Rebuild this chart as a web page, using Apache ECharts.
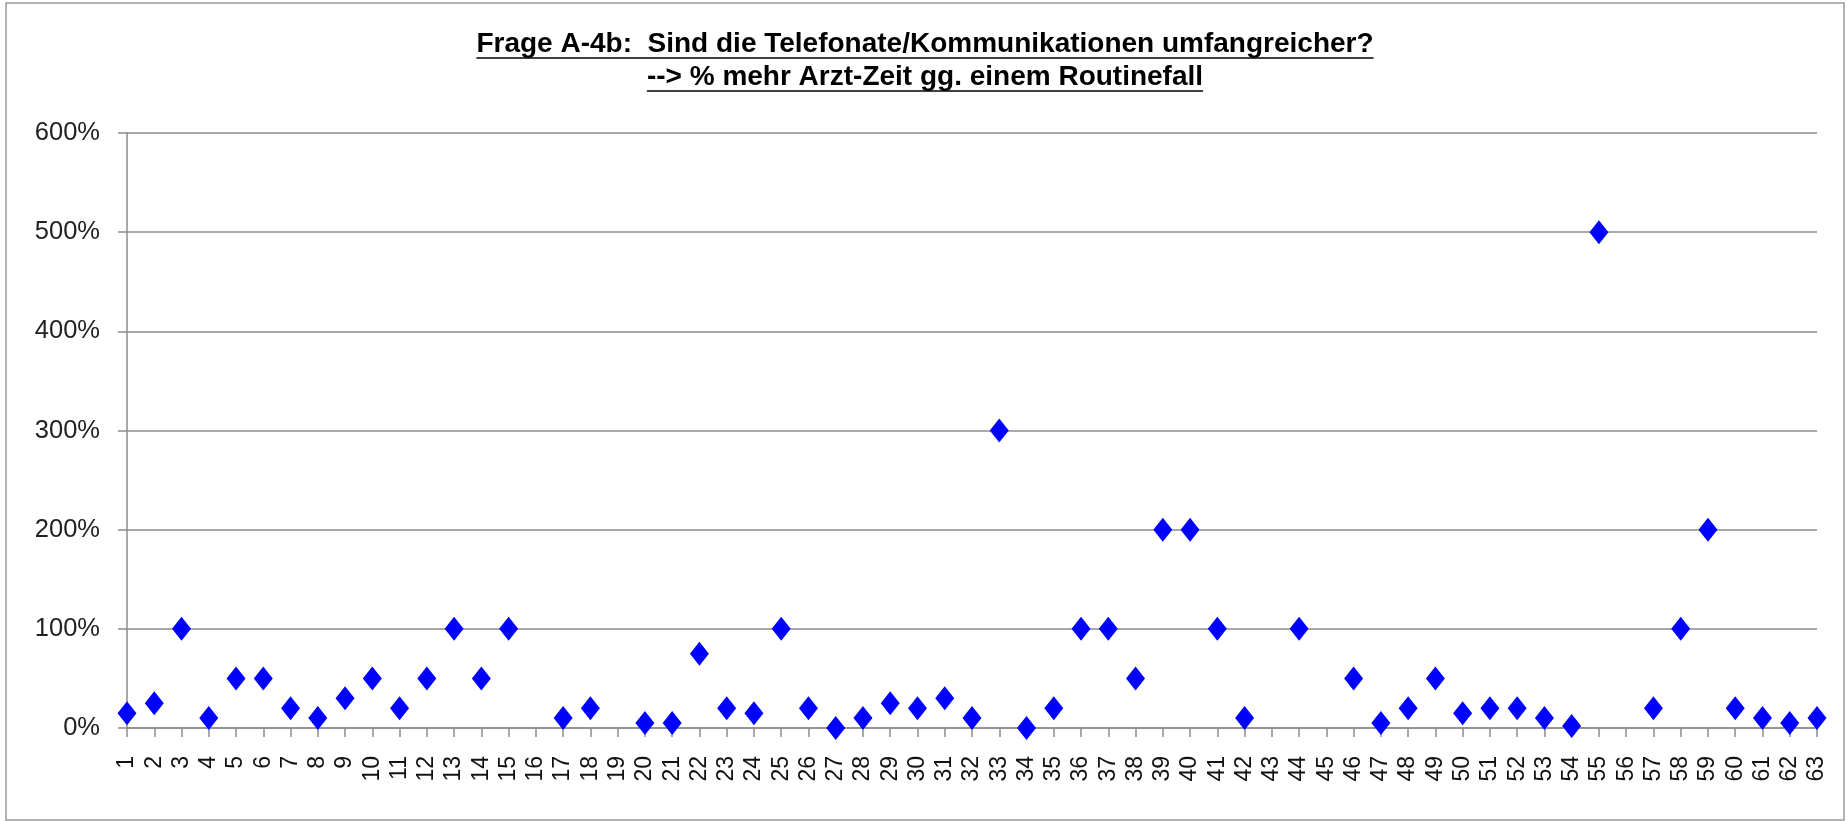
<html>
<head>
    <meta charset="utf-8">
    <title>Frage A-4b</title>
    <script src="https://cdn.jsdelivr.net/npm/echarts@6/dist/echarts.min.js"></script>
    <style>
        html, body { margin: 0; padding: 0; background: #fff; }
        #main { width: 1847px; height: 821px; }
    </style>
</head>
<body>
    <div id="main"></div>
    <script type="text/javascript">
        // Daten (Werte in %), leere Stellen = keine Antwort
        var titleLines = ['Frage A-4b:  Sind die Telefonate/Kommunikationen umfangreicher?',
                          '--> % mehr Arzt-Zeit gg. einem Routinefall'];
        var categories = [];
        for (var i = 1; i <= 63; i++) categories.push(String(i));
        var values = [
            15, 25, 100, 10, 50, 50, 20, 10, 30, 50,
            20, 50, 100, 50, 100, null, 10, 20, null, 5,
            5, 75, 20, 15, 100, 20, 0, 10, 25, 20,
            30, 10, 300, 0, 20, 100, 100, 50, 200, 200,
            100, 10, null, 100, null, 50, 5, 20, 50, 15,
            20, 20, 10, 2, 500, null, 20, 100, 200, 20,
            10, 5, 10
        ];
        var yTicks = [0, 100, 200, 300, 400, 500, 600];

        var titleFont = 'bold 28px "Liberation Sans", Arial, sans-serif';
        var cx = 925;

        // Unterstreichung des Titels: Breite messen
        var ctx = document.createElement('canvas').getContext('2d');
        ctx.font = titleFont;
        var underlines = titleLines.map(function (t, k) {
            var w = ctx.measureText(t).width;
            return {
                type: 'line',
                shape: { x1: cx - w / 2, y1: 58 + k * 33, x2: cx + w / 2, y2: 58 + k * 33 },
                style: { stroke: '#000', lineWidth: 1.6 }
            };
        });

        var myChart = echarts.init(document.getElementById('main'));
        var option = {
            animation: false,
            backgroundColor: '#fff',
            title: {
                text: titleLines.join('\n'),
                left: cx,
                top: 28,
                textAlign: 'center',
                padding: 0,
                textStyle: {
                    fontFamily: '"Liberation Sans", Arial, sans-serif',
                    fontWeight: 'bold',
                    fontSize: 28,
                    lineHeight: 33,
                    color: '#000'
                }
            },
            graphic: [{
                type: 'rect',
                shape: { x: 6, y: 3, width: 1838, height: 817 },
                style: { fill: 'none', stroke: '#9a9a9a', lineWidth: 1.5 }
            }].concat(underlines),
            grid: { left: 127, top: 133, right: 30, bottom: 93 },
            xAxis: {
                type: 'category',
                data: categories,
                boundaryGap: false,
                axisLine: { lineStyle: { color: '#8c8c8c', width: 1.5 } },
                axisTick: { show: true, interval: 0, length: 9, lineStyle: { color: '#8c8c8c', width: 1.5 } },
                axisLabel: {
                    interval: 0,
                    rotate: 90,
                    margin: 28,
                    fontFamily: '"Liberation Sans", Arial, sans-serif',
                    fontSize: 23,
                    color: '#111'
                },
                splitLine: { show: false }
            },
            yAxis: {
                type: 'value',
                min: yTicks[0],
                max: yTicks[yTicks.length - 1],
                interval: 100,
                axisLine: { show: true, lineStyle: { color: '#8c8c8c', width: 1.5 } },
                axisTick: { show: true, length: 9, lineStyle: { color: '#8c8c8c', width: 1.5 } },
                axisLabel: {
                    margin: 27,
                    formatter: '{value}%',
                    fontFamily: '"Liberation Sans", Arial, sans-serif',
                    fontSize: 25.5,
                    color: '#222'
                },
                splitLine: { show: true, lineStyle: { color: '#8c8c8c', width: 1.5 } }
            },
            series: [{
                type: 'scatter',
                data: values,
                symbol: 'diamond',
                symbolSize: [19, 24],
                itemStyle: { color: '#0000ff', opacity: 1 }
            }]
        };
        myChart.setOption(option);
    </script>
</body>
</html>
